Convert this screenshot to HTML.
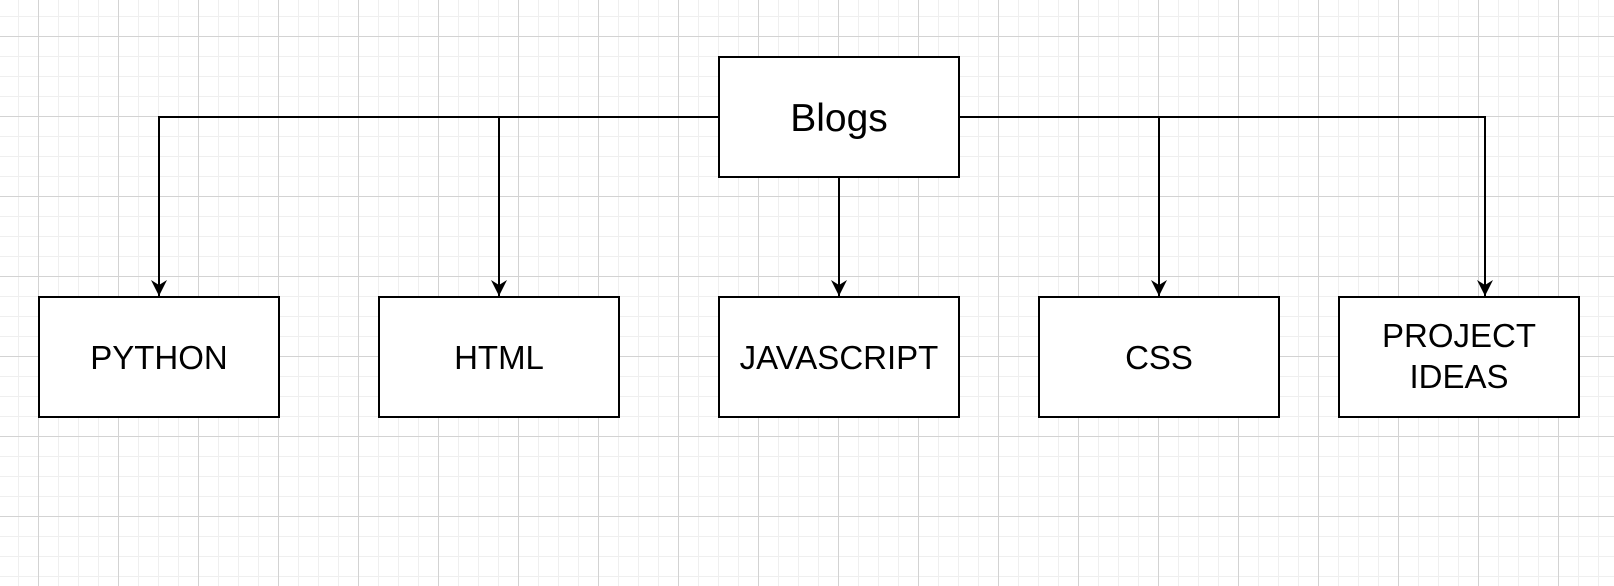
<!DOCTYPE html>
<html><head><style>
html,body{margin:0;padding:0;background:#fff;}
svg{display:block;}
text{font-family:"Liberation Sans",Arial,sans-serif;fill:#000;}
</style></head><body>
<svg width="1614" height="586" viewBox="0 0 1614 586" xmlns="http://www.w3.org/2000/svg">
<defs>
<pattern id="minor" x="18" y="16" width="20" height="20" patternUnits="userSpaceOnUse">
<path d="M0.5 0V20M0 0.5H20" stroke="#efefef" stroke-width="1" fill="none"/>
</pattern>
<pattern id="major" x="38" y="36" width="80" height="80" patternUnits="userSpaceOnUse">
<path d="M0.5 0V80M0 0.5H80" stroke="#d3d3d3" stroke-width="1" fill="none"/>
</pattern>
<marker id="ah" markerWidth="18" markerHeight="18" refX="16" refY="8" orient="auto" markerUnits="userSpaceOnUse">
<path d="M0 0 L16 8 L0 16 L5 8 Z" fill="#000"/>
</marker>
</defs>
<rect width="1614" height="586" fill="url(#minor)"/>
<rect width="1614" height="586" fill="url(#major)"/>
<g stroke="#000" stroke-width="2" fill="none">
<path d="M719 117 H159 V296" marker-end="url(#ah)"/>
<path d="M499 117 V296" marker-end="url(#ah)"/>
<path d="M839 177 V296" marker-end="url(#ah)"/>
<path d="M959 117 H1485 V296" marker-end="url(#ah)"/>
<path d="M1159 117 V296" marker-end="url(#ah)"/>
</g>
<g stroke="#000" stroke-width="2" fill="#fff">
<rect x="719" y="57" width="240" height="120"/>
<rect x="39" y="297" width="240" height="120"/>
<rect x="379" y="297" width="240" height="120"/>
<rect x="719" y="297" width="240" height="120"/>
<rect x="1039" y="297" width="240" height="120"/>
<rect x="1339" y="297" width="240" height="120"/>
</g>
<g text-anchor="middle" font-size="33">
<text x="839" y="131" font-size="39">Blogs</text>
<text x="159" y="369">PYTHON</text>
<text x="499" y="369">HTML</text>
<text x="839" y="369">JAVASCRIPT</text>
<text x="1159" y="369">CSS</text>
<text x="1459" y="347">PROJECT</text>
<text x="1459" y="388">IDEAS</text>
</g>
</svg>
</body></html>
